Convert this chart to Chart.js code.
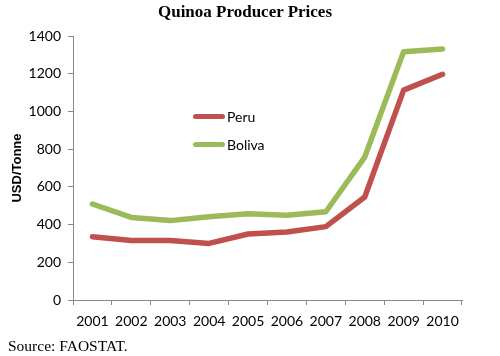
<!DOCTYPE html>
<html>
<head>
<meta charset="utf-8">
<script src="https://cdn.jsdelivr.net/npm/chart.js@4"></script>
<style>
  html, body { margin: 0; padding: 0; background: #fff; }
  #wrap { position: relative; width: 500px; height: 356px; }
  #title { position: absolute; left: 0; width: 490px; top: 2px; text-align: center;
           font-family: "Liberation Serif", "Times New Roman", serif; font-weight: bold; font-size: 17px; color: #000; }
  #source { position: absolute; left: 8px; top: 337px;
            font-family: "Liberation Serif", "Times New Roman", serif; font-size: 15.5px; color: #000; }
  #legend { position: absolute; left: 193px; top: 102px; font-family: Lato, "Liberation Sans", sans-serif; font-size: 14px; }
  .item { display: flex; align-items: center; height: 28px; }
  .sw { width: 32px; height: 5px; border-radius: 3px; margin-right: 2px; }
</style>
</head>
<body>
<div id="wrap">
  <canvas id="c" width="500" height="356"></canvas>
  <div id="title">Quinoa Producer Prices</div>
  <div id="legend"></div>
  <div id="source">Source: FAOSTAT.</div>
</div>
<script>
const years = ["2001","2002","2003","2004","2005","2006","2007","2008","2009","2010"];
const peru = [336, 316, 316, 300, 350, 361, 389, 546, 1113, 1197];
const bolivia = [509, 438, 421, 442, 458, 449, 468, 758, 1317, 1331];
const seriesNames = ["Peru", "Boliva"];
const seriesColors = ["#C0504D", "#9BBB59"];

const ctx = document.getElementById('c');
const chart = new Chart(ctx, {
  type: 'line',
  data: {
    labels: years,
    datasets: [
      { label: seriesNames[0], data: peru, borderColor: seriesColors[0], backgroundColor: seriesColors[0],
        borderWidth: 5.5, pointRadius: 0, tension: 0, borderCapStyle: 'round', borderJoinStyle: 'round' },
      { label: seriesNames[1], data: bolivia, borderColor: seriesColors[1], backgroundColor: seriesColors[1],
        borderWidth: 5.5, pointRadius: 0, tension: 0, borderCapStyle: 'round', borderJoinStyle: 'round' }
    ]
  },
  options: {
    responsive: false,
    animation: false,
    layout: { padding: { top: 36, right: 38, bottom: 22, left: 10 } },
    plugins: { legend: { display: false }, title: { display: false }, tooltip: { enabled: false } },
    scales: {
      x: {
        offset: true,
        grid: { display: true, drawOnChartArea: false, tickLength: 5, color: '#888', offset: true },
        border: { display: true, color: '#888', width: 1 },
        ticks: { color: '#000', font: { family: 'Lato, "Liberation Sans", sans-serif', size: 14 }, padding: 8, maxRotation: 0, autoSkip: false },
        afterFit: (s) => { s.height = 34; }
      },
      y: {
        min: 0, max: 1400,
        ticks: { stepSize: 200, color: '#000', font: { family: 'Lato, "Liberation Sans", sans-serif', size: 14 }, padding: 7,
                 callback: (v) => String(v) },
        grid: { display: true, drawOnChartArea: false, tickLength: 5, color: '#888' },
        border: { display: true, color: '#888', width: 1 },
        title: { display: true, text: 'USD/Tonne', color: '#000', font: { family: '"Liberation Sans", Arial, sans-serif', size: 13, weight: 'bold' }, padding: 0 },
        afterFit: (s) => { s.width = 63; }
      }
    }
  }
});

const leg = document.getElementById('legend');
chart.data.datasets.forEach(ds => {
  const d = document.createElement('div'); d.className = 'item';
  const sw = document.createElement('span'); sw.className = 'sw'; sw.style.background = ds.borderColor;
  const t = document.createElement('span'); t.textContent = ds.label;
  d.appendChild(sw); d.appendChild(t); leg.appendChild(d);
});
</script>
</body>
</html>
